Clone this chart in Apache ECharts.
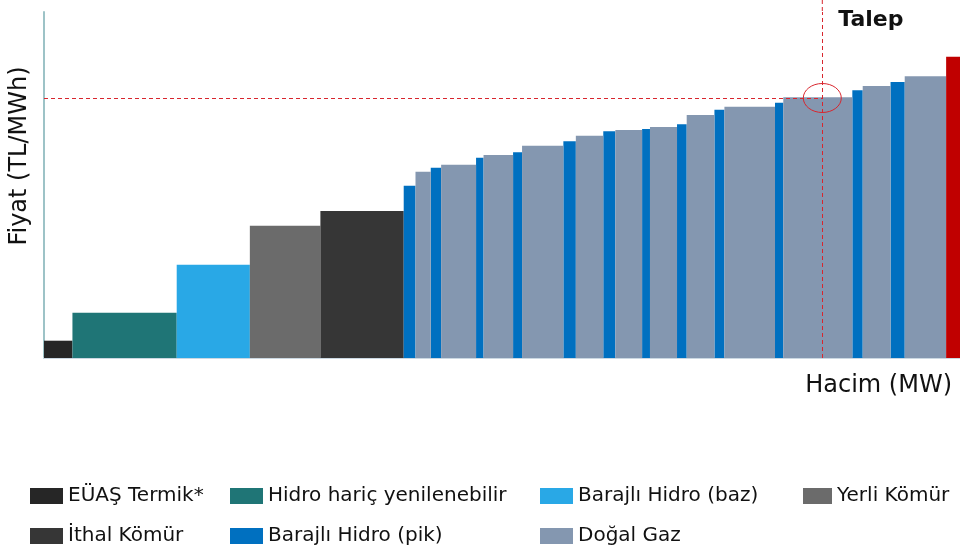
<!DOCTYPE html>
<html><head><meta charset="utf-8">
<script src="https://cdn.jsdelivr.net/npm/echarts/dist/echarts.min.js"></script>
<style>html,body{margin:0;padding:0;background:#fff}#c{width:960px;height:552px}</style>
</head><body><div id="c"></div>
<script>
// Technology categories (legend order) and colours
const categories = ['EÜAŞ Termik*','Hidro hariç yenilenebilir','Barajlı Hidro (baz)','Yerli Kömür','İthal Kömür','Barajlı Hidro (pik)','Doğal Gaz','Diğer'];
const categoryColors = ['#262626','#1f7576','#29a8e6','#6b6b6b','#363636','#0070c0','#8497b0','#c00000'];
// Merit-order blocks, in order of dispatch
const blockCategory = [0,1,2,3,4,5,6,5,6,5,6,5,6,5,6,5,6,5,6,5,6,5,6,5,6,5,6,5,6,7];
const blockCapacity = [2850,10450,7330,7070,8350,1180,1530,1040,3500,750,2960,900,4140,1250,2750,1210,2680,790,2710,970,2780,1000,5070,830,6920,1040,2790,1420,4150,1390];
const blockPrice    = [173,453,933,1323,1470,1723,1863,1903,1933,2003,2030,2057,2123,2167,2223,2267,2280,2290,2310,2337,2430,2483,2513,2553,2607,2677,2720,2760,2817,3013];
const demand = 78000;
const clearingPrice = 2600;
const totalCapacity = 91800;
const priceMax = 3460;

const FONT = 'DejaVu Sans';
const chart = echarts.init(document.getElementById('c'), null, {renderer:'canvas'});

const seriesData = categories.map(() => []);
let cum = 0;
blockCapacity.forEach((w, i) => {
  seriesData[blockCategory[i]].push([cum, cum + w, blockPrice[i]]);
  cum += w;
});

function renderItem(params, api) {
  const a = api.coord([api.value(0), api.value(2)]);
  const b = api.coord([api.value(1), 0]);
  return {type:'rect', shape:{x:a[0], y:a[1], width:b[0]-a[0], height:b[1]-a[1]}, style: api.style()};
}

const series = categories.map((name, k) => ({
  type:'custom', name, renderItem, data: seriesData[k],
  encode:{x:[0,1], y:2},
  itemStyle:{color: categoryColors[k]},
  silent:true
}));
const dashStyle = {color:'#d8262e', type:[4,3], width:1};
series[6].markLine = {
  silent:true, symbol:'none', animation:false,
  lineStyle:dashStyle,
  label:{show:false},
  data:[
    [{coord:[0, clearingPrice]},{coord:[demand, clearingPrice]}],
    [{coord:[demand, 0]},{coord:[demand, priceMax]}]
  ]
};

const legendPos = [[30,486],[230,486],[540,486],[803,486],[30,526],[230,526],[540,526]];
const legends = legendPos.map((p, i) => ({
  data:[categories[i]], left:p[0], top:p[1], padding:0,
  icon:'rect', itemWidth: i===3 ? 29 : 33, itemHeight:16,
  textStyle:{fontFamily:FONT, fontSize:20, color:'#111'},
  selectedMode:false
}));

chart.setOption({
  animation:false,
  grid:{left:42, right:0, top:12, bottom:194, containLabel:false},
  xAxis:{type:'value', min:0, max:totalCapacity,
    axisLine:{show:true, lineStyle:{color:'#cbd8e2', width:2}},
    axisTick:{show:false}, axisLabel:{show:false}, splitLine:{show:false},
    name:'Hacim (MW)', nameLocation:'end', nameGap:-8,
    nameTextStyle:{fontFamily:FONT, fontSize:24, color:'#111', align:'right', verticalAlign:'top', padding:[16,0,0,0]}
  },
  yAxis:{type:'value', min:0, max:priceMax,
    axisLine:{show:true, lineStyle:{color:'#9dc3c7', width:2}},
    axisTick:{show:false}, axisLabel:{show:false}, splitLine:{show:false},
    name:'Fiyat (TL/MWh)', nameLocation:'middle', nameGap:12,
    nameTextStyle:{fontFamily:FONT, fontSize:24, color:'#111', padding:[0,0,0,58]}
  },
  legend: legends,
  series
});

const clearPx = chart.convertToPixel({gridIndex:0}, [demand, clearingPrice]);
const gridTopPx = chart.convertToPixel({gridIndex:0}, [demand, priceMax]);
chart.setOption({
  graphic:[
    {type:'line', shape:{x1:clearPx[0], y1:0, x2:clearPx[0], y2:gridTopPx[1]}, style:{stroke:'#d8262e', lineDash:[4,3], lineWidth:1}, z:100, silent:true},
    {type:'ellipse', shape:{cx:clearPx[0], cy:clearPx[1], rx:19, ry:14.5}, style:{fill:'none', stroke:'#d8262e', lineWidth:1}, z:100, silent:true},
    {type:'text', x:clearPx[0]+16, y:20, style:{text:'Talep', fontFamily:FONT, fontSize:22, fontWeight:'bold', fill:'#111', verticalAlign:'middle'}, z:100}
  ]
});
</script></body></html>
